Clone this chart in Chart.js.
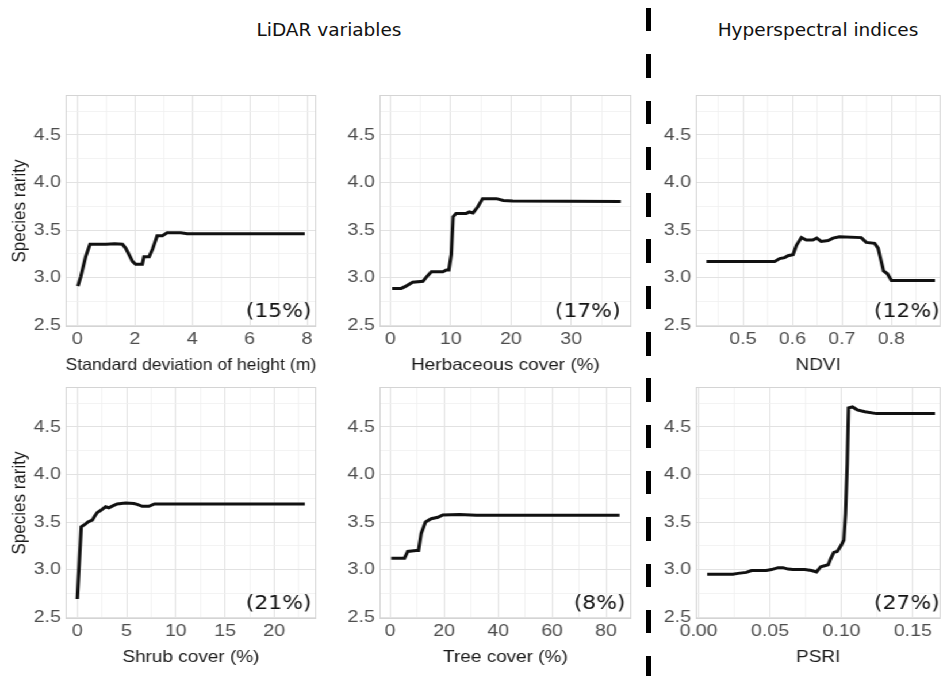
<!DOCTYPE html>
<html>
<head>
<meta charset="utf-8">
<script src="https://cdn.jsdelivr.net/npm/chart.js@4.4.1/dist/chart.umd.min.js"></script>
<style>
  body { margin: 0; width: 941px; height: 676px; overflow: hidden; background: #fff; position: relative; }
  #plots { position: absolute; left: 0; top: 0; height: 676px; transform-origin: 0 0; }
  #plots canvas { position: absolute; }
  .head { position: absolute; font-family: "DejaVu Sans"; font-size: 18.5px; color: #111; line-height: 1; white-space: nowrap; transform: translateX(-50%); }
  #divider { position: absolute; left: 646px; top: 8px; width: 5px; height: 668px;
             background: repeating-linear-gradient(to bottom, #000 0 23.5px, transparent 23.5px 46.3px); }
</style>
</head>
<body>
<div class="head" style="left:329px; top:21px">LiDAR variables</div>
<div class="head" style="left:818px; top:21px">Hyperspectral indices</div>
<div id="divider"></div>
<div id="plots"></div>
<script>
// partial dependence of species rarity on each predictor
const sdX = [0.02, 0.12, 0.29, 0.44, 0.6, 1.0, 1.3, 1.57, 1.68, 1.8, 1.92, 2.03, 2.26, 2.32, 2.5, 2.62, 2.78, 2.96, 3.13, 3.6, 3.83, 5.5, 7.92];
const sdY = [2.91, 3.01, 3.22, 3.35, 3.35, 3.35, 3.355, 3.35, 3.31, 3.24, 3.17, 3.14, 3.14, 3.22, 3.22, 3.3, 3.44, 3.44, 3.47, 3.47, 3.46, 3.46, 3.46];

const herbX = [0.3, 1.8, 2.6, 3.7, 5.4, 5.9, 6.8, 8.7, 9.3, 9.7, 10.1, 10.4, 10.9, 12.6, 13.1, 13.7, 14.5, 15.3, 17.6, 18.7, 20.3, 38.2];
const herbY = [2.886, 2.886, 2.91, 2.95, 2.96, 3.0, 3.06, 3.06, 3.08, 3.08, 3.24, 3.64, 3.675, 3.675, 3.69, 3.68, 3.745, 3.83, 3.83, 3.81, 3.805, 3.8];

const ndviX = [0.426, 0.564, 0.574, 0.584, 0.591, 0.601, 0.608, 0.618, 0.628, 0.641, 0.649, 0.658, 0.672, 0.682, 0.695, 0.739, 0.749, 0.766, 0.773, 0.779, 0.784, 0.792, 0.8, 0.888];
const ndviY = [3.17, 3.17, 3.2, 3.21, 3.23, 3.24, 3.34, 3.42, 3.395, 3.395, 3.415, 3.38, 3.39, 3.415, 3.43, 3.42, 3.37, 3.36, 3.31, 3.18, 3.07, 3.04, 2.97, 2.97];

const shrubX = [0, 0.4, 0.85, 1.08, 1.52, 1.76, 2.03, 2.36, 2.87, 3.2, 3.6, 4.05, 4.9, 5.74, 6.08, 6.6, 7.26, 7.84, 23.1];
const shrubY = [2.69, 3.45, 3.48, 3.5, 3.52, 3.56, 3.6, 3.62, 3.66, 3.65, 3.67, 3.69, 3.7, 3.695, 3.685, 3.665, 3.665, 3.69, 3.69];

const treeX = [0.4, 3.5, 5.3, 6.5, 9.6, 10.5, 11.5, 13.1, 15.2, 17.7, 19.5, 25.7, 31.9, 85];
const treeY = [3.12, 3.12, 3.12, 3.19, 3.2, 3.2, 3.38, 3.5, 3.535, 3.55, 3.575, 3.58, 3.57, 3.57];

const psriX = [0.006, 0.024, 0.0276, 0.0334, 0.037, 0.0404, 0.0474, 0.051, 0.0556, 0.059, 0.0626, 0.066, 0.0743, 0.079, 0.0825, 0.0855, 0.0907, 0.0923, 0.0946, 0.097, 0.1, 0.1016, 0.1028, 0.104, 0.1049, 0.1077, 0.111, 0.1164, 0.1245, 0.1654];
const psriY = [2.95, 2.95, 2.96, 2.97, 2.99, 2.99, 2.99, 3.0, 3.02, 3.02, 3.005, 3.0, 3.0, 2.99, 2.975, 3.03, 3.05, 3.11, 3.18, 3.19, 3.26, 3.31, 3.59, 4.11, 4.7, 4.71, 4.68, 4.66, 4.64, 4.64];

const xTitles = ['Standard deviation of height (m)', 'Herbaceous cover (%)', 'NDVI', 'Shrub cover (%)', 'Tree cover (%)', 'PSRI'];
const importance = ['(15%)', '(17%)', '(12%)', '(21%)', '(8%)', '(27%)'];
const yTitle = 'Species rarity';

// the original figure is stretched sideways, so draw narrow and scale the block on x
const SX = 1.15;
const PAD_TOP = 18, PAD_RIGHT = 6, XH = 50;

// box = plot area in page px; x = [min, max, minor step, major step, decimals]
const panels = [
  { xs: sdX,    ys: sdY,    box: [65, 95, 316, 327],   x: [-0.41, 8.32, 1, 2, 0],           noteRight: 311, first: true },
  { xs: herbX,  ys: herbY,  box: [380, 95, 632, 327],  x: [-1.8, 39.95, 5, 10, 0],          noteRight: 621 },
  { xs: ndviX,  ys: ndviY,  box: [696, 95, 941, 327],  x: [0.4044, 0.8996, 0.05, 0.1, 1],   noteRight: 940 },
  { xs: shrubX, ys: shrubY, box: [65, 387, 316, 619],  x: [-1.19, 24.26, 2.5, 5, 0],        noteRight: 311, first: true },
  { xs: treeX,  ys: treeY,  box: [380, 387, 632, 619], x: [-3.96, 89.37, 10, 20, 0],        noteRight: 626 },
  { xs: psriX,  ys: psriY,  box: [696, 387, 941, 619], x: [-0.002, 0.1694, 0.025, 0.05, 2], noteRight: 940 }
];
const Y_RANGE = [2.48, 4.92, 0.25, 0.5, 1];

const isMajor = (v, major) => { const r = v / major; return Math.abs(r - Math.round(r)) < 1e-6; };

function axis([min, max, step, major, dec], padding) {
  return {
    type: 'linear', min, max,
    border: { display: false },
    grid: {
      drawTicks: false,
      color: c => (c.tick && isMajor(c.tick.value, major)) ? '#e2e2e2' : '#f0f0f0',
      lineWidth: c => (c.tick && isMajor(c.tick.value, major)) ? 1 : 0.8
    },
    ticks: {
      stepSize: step, includeBounds: false, autoSkip: false, maxRotation: 0, padding,
      color: '#4d4d4d', font: { family: 'Liberation Sans', size: 17 },
      callback: v => isMajor(v, major) ? v.toFixed(dec) : ''
    }
  };
}

// light frame round the panel and the importance label in its corner
const frame = {
  id: 'frame',
  beforeDatasetsDraw(chart) {
    const { ctx, chartArea: a } = chart;
    ctx.save();
    ctx.strokeStyle = '#d4d4d4';
    ctx.lineWidth = 1;
    ctx.strokeRect(a.left + 0.5, a.top + 0.5, a.right - a.left - 1, a.bottom - a.top - 1);
    ctx.restore();
  },
  afterDatasetsDraw(chart, args, opts) {
    const { ctx, chartArea: a } = chart;
    ctx.save();
    ctx.font = '19px "DejaVu Sans"';
    ctx.fillStyle = '#111';
    ctx.textAlign = 'right';
    ctx.textBaseline = 'middle';
    ctx.fillText(opts.text, opts.right, a.bottom - 15);
    ctx.restore();
  }
};

const plots = document.getElementById('plots');
plots.style.width = (941 / SX) + 'px';
plots.style.transform = 'scaleX(' + SX + ')';

panels.forEach((p, i) => {
  const [l, t, r, b] = p.box;
  const yw = p.first ? 56 : 44;
  const left = l / SX - yw;

  const canvas = document.createElement('canvas');
  canvas.width = Math.round((r - l) / SX + yw + PAD_RIGHT);
  canvas.height = PAD_TOP + (b - t) + XH;
  canvas.style.left = left + 'px';
  canvas.style.top = (t - PAD_TOP) + 'px';
  plots.appendChild(canvas);

  const xAxis = axis(p.x, 2);
  xAxis.title = { display: true, text: xTitles[i], color: '#1a1a1a',
                  font: { family: 'Liberation Sans', size: 16.5 }, padding: { top: 0, bottom: 2 } };
  xAxis.afterFit = s => { s.height = XH; };

  const yAxis = axis(Y_RANGE, 4);
  yAxis.title = { display: !!p.first, text: yTitle, color: '#1a1a1a',
                  font: { family: 'Liberation Sans', size: 17 }, padding: { top: 6.6, bottom: 0 } };
  yAxis.afterFit = s => { s.width = yw; };

  new Chart(canvas, {
    type: 'line',
    data: {
      datasets: [{
        data: p.xs.map((x, k) => ({ x, y: p.ys[k] })),
        borderColor: '#111',
        borderWidth: 3,
        pointRadius: 0,
        tension: 0
      }]
    },
    options: {
      responsive: false,
      animation: false,
      events: [],
      layout: { padding: { top: PAD_TOP, right: PAD_RIGHT, left: 0, bottom: 0 } },
      plugins: {
        legend: { display: false },
        tooltip: { enabled: false },
        frame: { text: importance[i], right: p.noteRight / SX - left }
      },
      scales: { x: xAxis, y: yAxis }
    },
    plugins: [frame]
  });
});
</script>
</body>
</html>
